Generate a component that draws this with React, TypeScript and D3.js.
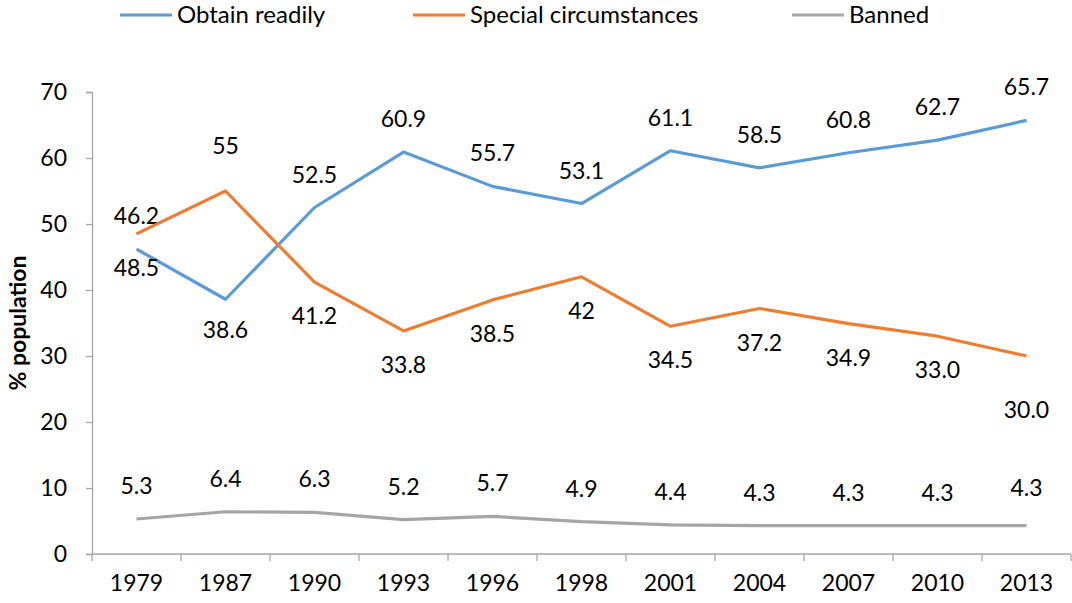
import React, { useEffect, useRef } from 'react';
import * as d3 from 'd3';

const years = ['1979', '1987', '1990', '1993', '1996', '1998', '2001', '2004', '2007', '2010', '2013'];

const obtainReadily = [46.2, 38.6, 52.5, 60.9, 55.7, 53.1, 61.1, 58.5, 60.8, 62.7, 65.7];
const specialCircumstances = [48.5, 55, 41.2, 33.8, 38.5, 42, 34.5, 37.2, 34.9, 33.0, 30.0];
const banned = [5.3, 6.4, 6.3, 5.2, 5.7, 4.9, 4.4, 4.3, 4.3, 4.3, 4.3];

const obtainLabels = ['46.2', '38.6', '52.5', '60.9', '55.7', '53.1', '61.1', '58.5', '60.8', '62.7', '65.7'];
const specialLabels = ['48.5', '55', '41.2', '33.8', '38.5', '42', '34.5', '37.2', '34.9', '33.0', '30.0'];
const bannedLabels = ['5.3', '6.4', '6.3', '5.2', '5.7', '4.9', '4.4', '4.3', '4.3', '4.3', '4.3'];

const yTicks = [0, 10, 20, 30, 40, 50, 60, 70];

const FONT = 'Lato, "Open Sans", sans-serif';

const App = () => {
  const svgRef = useRef<SVGSVGElement>(null);

  useEffect(() => {
    const svg = d3.select(svgRef.current);
    svg.selectAll('*').remove();

    const width = 1072;
    const height = 603;
    const left = 92, right = 1071, top = 92, bottom = 554;

    const x = d3.scaleBand().domain(years).range([left, right]).padding(0);
    const y = d3.scaleLinear().domain([0, 70]).range([bottom, top]);
    const cx = (i: number) => (x(years[i]) as number) + x.bandwidth() / 2;

    svg.attr('width', width).attr('height', height);

    // y axis
    const yAxis = svg.append('g')
      .attr('transform', `translate(${left},0)`)
      .call(d3.axisLeft(y).tickValues(yTicks).tickSize(6).tickPadding(19).tickFormat(d3.format('d')));
    yAxis.selectAll('line, path').attr('stroke', '#a6a6a6').attr('stroke-width', 1.3);
    yAxis.selectAll('text').attr('font-family', FONT).attr('font-size', 23).attr('fill', '#000');

    // x axis with ticks between categories
    svg.append('line')
      .attr('x1', left).attr('x2', right).attr('y1', bottom).attr('y2', bottom)
      .attr('stroke', '#a6a6a6').attr('stroke-width', 1.3);
    const boundaries = years.map(yr => x(yr) as number).concat([right]);
    svg.append('g').selectAll('line')
      .data(boundaries)
      .join('line')
      .attr('x1', d => d).attr('x2', d => d)
      .attr('y1', bottom).attr('y2', bottom + 7)
      .attr('stroke', '#a6a6a6').attr('stroke-width', 1.3);
    svg.append('g').selectAll('text')
      .data(years)
      .join('text')
      .attr('x', (d, i) => cx(i))
      .attr('y', 591)
      .attr('text-anchor', 'middle')
      .attr('font-family', FONT).attr('font-size', 23)
      .text(d => d);

    // y axis title
    svg.append('text')
      .attr('transform', `translate(26,${(top + bottom) / 2 + 0}) rotate(-90)`)
      .attr('text-anchor', 'middle')
      .attr('font-family', FONT).attr('font-size', 23).attr('font-weight', 'bold')
      .text('% population');

    const series = [
      { name: 'Obtain readily', values: obtainReadily, labels: obtainLabels, color: '#5b9bd5', legendX: 120 },
      { name: 'Special circumstances', values: specialCircumstances, labels: specialLabels, color: '#ed7d31', legendX: 413 },
      { name: 'Banned', values: banned, labels: bannedLabels, color: '#a5a5a5', legendX: 792 },
    ];

    // label offsets (label centre relative to point, px)
    const above = -33, below = 34;
    const labelOffset = [
      obtainReadily.map((_, i) => (i === 1 ? below - 3 : above)),
      specialCircumstances.map((_, i) => (i === 1 ? -45 : i === 10 ? 54 : below)),
      banned.map((_, i) => (i === 10 ? -38 : above)),
    ];

    const line = d3.line<number>()
      .x((d, i) => cx(i))
      .y(d => y(d));

    series.forEach((s, si) => {
      svg.append('path')
        .datum(s.values)
        .attr('fill', 'none')
        .attr('stroke', s.color)
        .attr('stroke-width', 3.2)
        .attr('stroke-linejoin', 'round')
        .attr('d', line);

      svg.append('g').selectAll('text')
        .data(s.values)
        .join('text')
        .attr('x', (d, i) => cx(i))
        .attr('y', (d, i) => y(d) + labelOffset[si][i])
        .attr('dy', '0.35em')
        .attr('text-anchor', 'middle')
        .attr('font-family', FONT).attr('font-size', 23)
        .attr('fill', '#000')
        .text((d, i) => s.labels[i]);

      // legend
      const lg = svg.append('g');
      lg.append('line')
        .attr('x1', s.legendX).attr('x2', s.legendX + 52)
        .attr('y1', 15).attr('y2', 15)
        .attr('stroke', s.color).attr('stroke-width', 3.2);
      lg.append('text')
        .attr('x', s.legendX + 57).attr('y', 15)
        .attr('dy', '0.35em')
        .attr('font-family', FONT).attr('font-size', 24)
        .text(s.name);
    });
  }, []);

  return (
    <div style={{ position: 'absolute', left: 0, top: 0 }}>
      <svg ref={svgRef} style={{ display: 'block' }}></svg>
    </div>
  );
};

export default App;
